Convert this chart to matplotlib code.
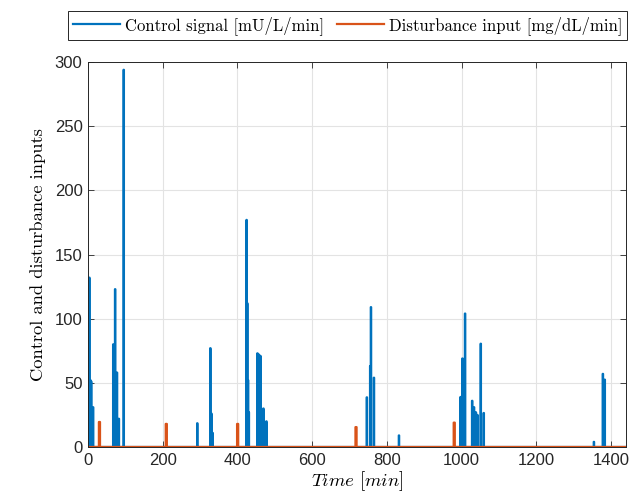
import numpy as np
import matplotlib
matplotlib.use('Agg')
import matplotlib.pyplot as plt

plt.rcParams['mathtext.fontset'] = 'cm'
plt.rcParams['font.family'] = ['Liberation Sans', 'DejaVu Sans']

# control signal pulses (1-min samples)
ctrl_t = [1, 3, 6, 8, 13, 67, 72, 77, 82, 95,
          292, 327, 330, 333,
          424, 426, 428, 430, 453, 457, 461, 469, 477,
          746, 755, 757, 765, 832,
          997, 1002, 1009, 1028, 1033, 1038, 1042, 1051, 1059,
          1354, 1378, 1383]
ctrl_u = [73, 132, 52, 51, 31, 80, 123, 58, 22, 294,
          18.5, 77, 26, 11,
          177, 112, 52, 27, 73, 72, 71, 30, 20,
          38.7, 63, 109, 54, 9,
          39, 69, 104, 36, 31, 27, 25, 80.5, 26.5,
          4, 57, 52.5]

# disturbance (meal) input
meal_t = [29, 208, 399, 716, 979]
meal_d = [19.5, 18, 18, 15.5, 19]
meal_len = 3

t_end = 1440
blue = '#0072BD'
orange = '#D95319'

t = np.arange(0, t_end + 1)
u = np.zeros(len(t))
u[ctrl_t] = ctrl_u
d = np.zeros(len(t))
for tm, dm in zip(meal_t, meal_d):
    d[tm:tm + meal_len] = dm

fig = plt.figure(figsize=(6.29, 4.96), dpi=100)
ax = fig.add_axes([0.140, 0.0988, 0.855, 0.776])

ax.plot(t, u, drawstyle='steps-post', color=blue, lw=1.6,
        label='Control signal [mU/L/min]')
ax.plot(t, d, drawstyle='steps-post', color=orange, lw=1.6,
        label='Disturbance input [mg/dL/min]')

ax.set_xlim(0, t_end)
ax.set_ylim(0, 300)
ax.set_xticks(range(0, 1401, 200))
ax.set_yticks(range(0, 301, 50))
ax.grid(True, color='#e3e3e3', lw=0.8)
ax.set_axisbelow(True)
ax.tick_params(direction='in', top=True, right=True, length=4, width=0.6,
               color='#262626', labelsize=12, labelcolor='#262626', pad=4)
for s in ax.spines.values():
    s.set_color('#262626')
    s.set_linewidth(0.7)

ax.set_xlabel(r'$Time\ [min]$', fontsize=13.5, labelpad=1)
ax.set_ylabel('Control and disturbance inputs', family='cmr10', fontsize=13.3, labelpad=6)

leg = fig.legend(loc='upper center', bbox_to_anchor=(0.553, 0.978), ncol=2,
                 prop={'family': 'cmr10', 'size': 12}, frameon=True, fancybox=False,
                 edgecolor='#262626', framealpha=1, handlelength=2.8,
                 borderpad=0.3, columnspacing=0.8, handletextpad=0.3, borderaxespad=0)
leg.get_frame().set_linewidth(0.7)

fig.savefig('out.png', dpi=100)
